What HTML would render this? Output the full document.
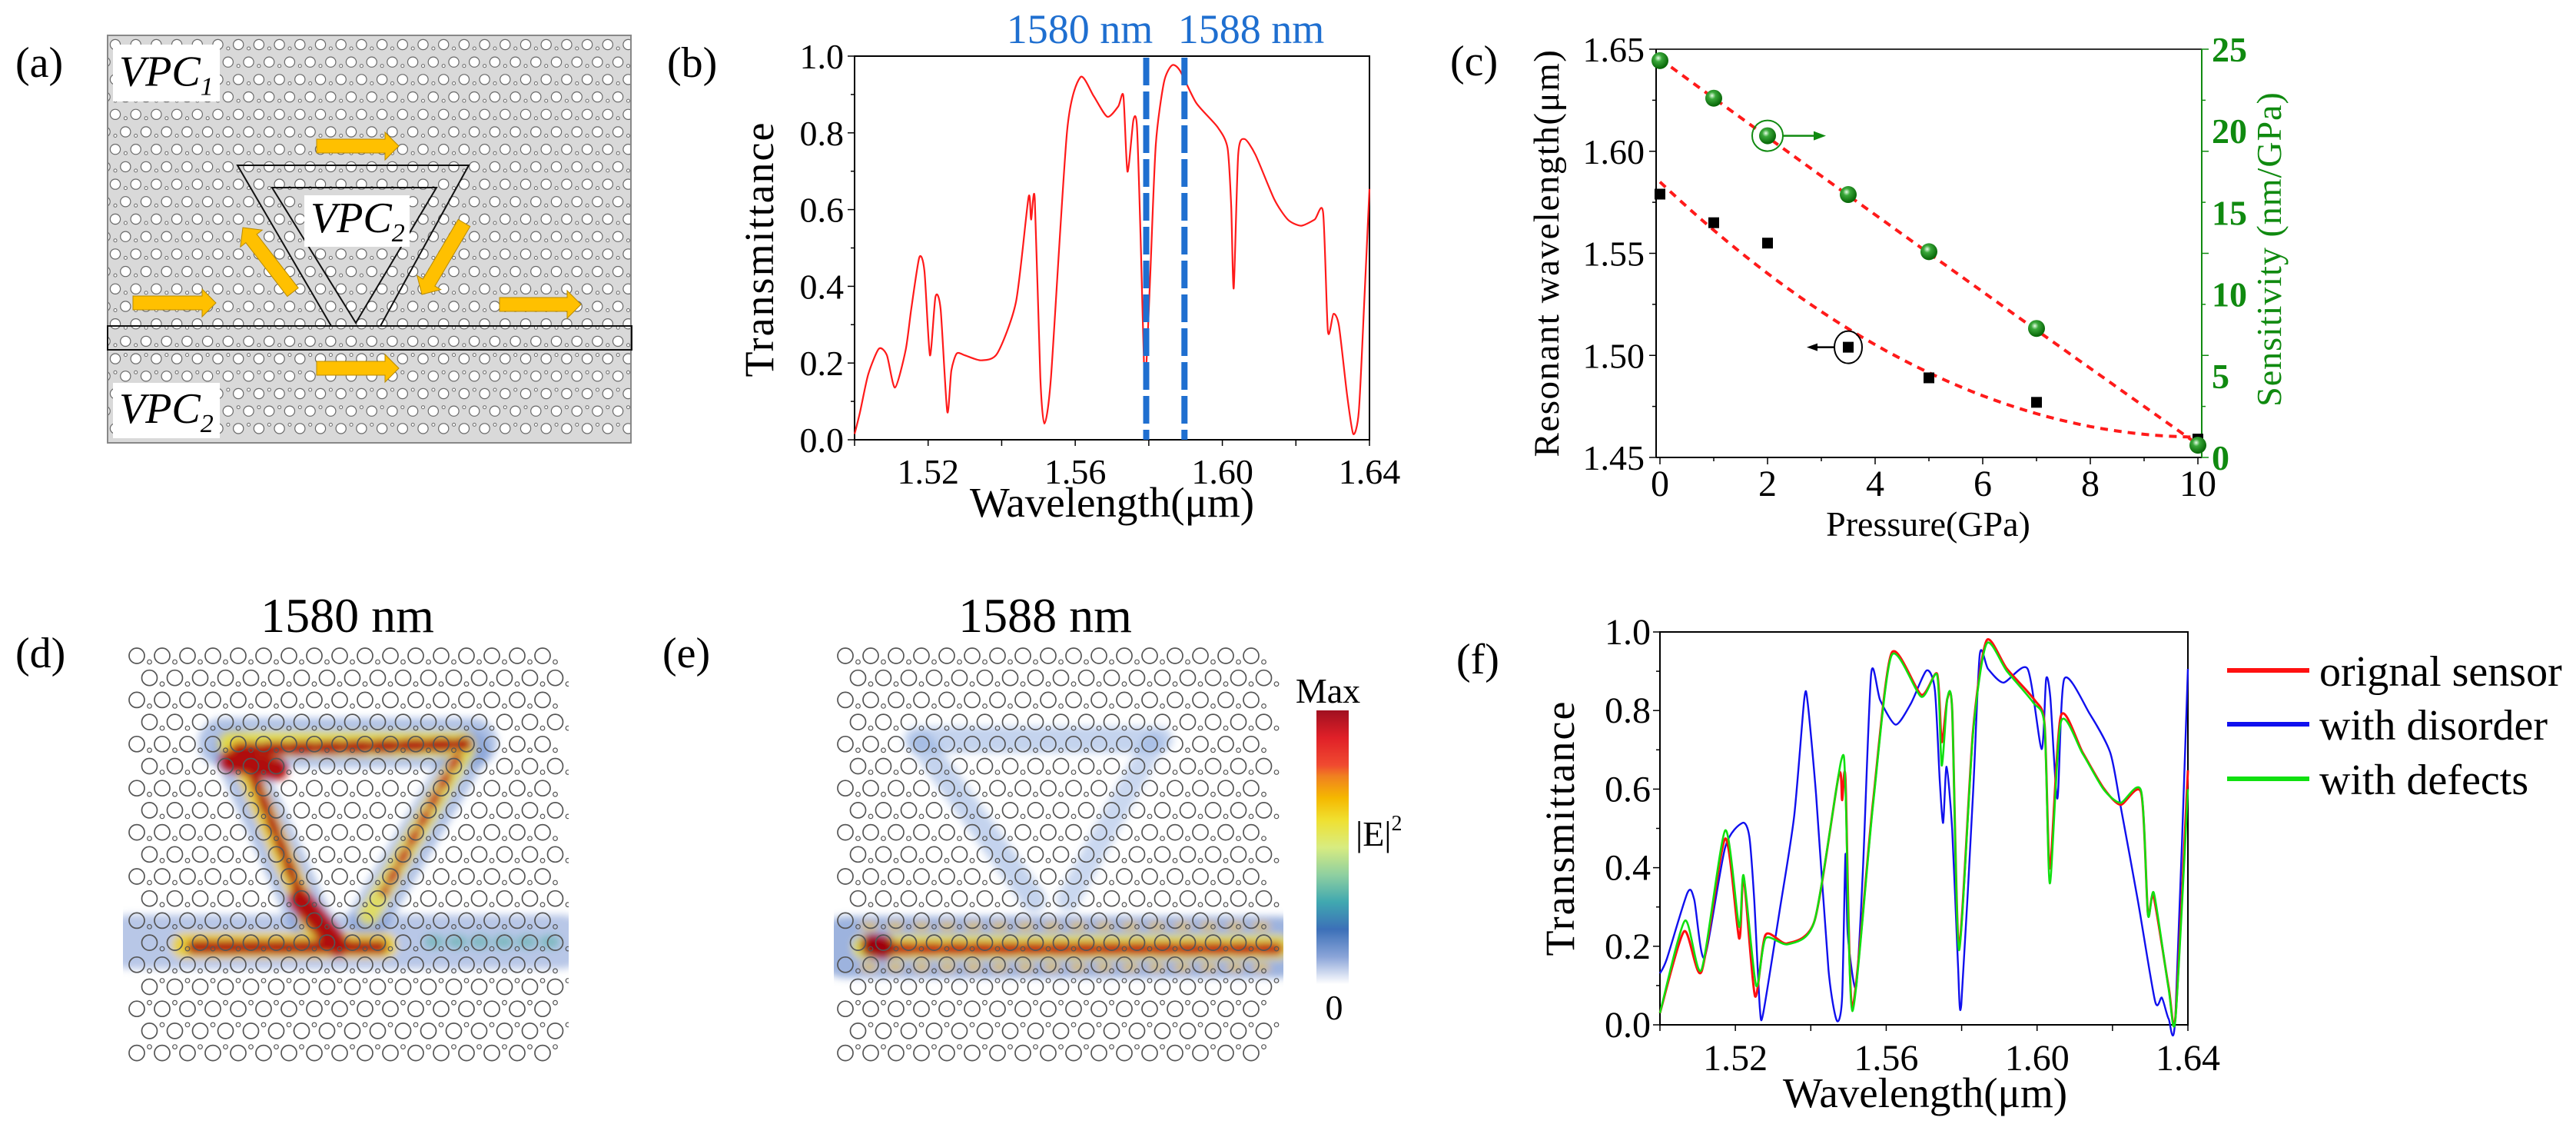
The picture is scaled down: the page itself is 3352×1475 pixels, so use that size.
<!DOCTYPE html>
<html><head><meta charset="utf-8"><title>VPC pressure sensor figure</title>
<style>
html,body{margin:0;padding:0;background:#fff;}
svg{display:block;}
svg text, svg tspan{font-family:"Liberation Serif","Times New Roman","DejaVu Serif",serif;}
</style></head>
<body>
<svg id="fig" width="3352" height="1475" viewBox="0 0 3352 1475" xmlns="http://www.w3.org/2000/svg" font-family="Liberation Serif, serif">
<defs>
<clipPath id="clipA"><rect x="141" y="47" width="679" height="528"/></clipPath>
<clipPath id="clipD"><rect x="160" y="840" width="580" height="545"/></clipPath>
<clipPath id="clipE"><rect x="1085" y="838" width="585" height="545"/></clipPath>
<filter id="blur6" x="-20%" y="-20%" width="140%" height="140%"><feGaussianBlur stdDeviation="5"/></filter>
<linearGradient id="cbar" x1="0" y1="0" x2="0" y2="1">
<stop offset="0" stop-color="#a01020"/><stop offset="0.1" stop-color="#e02028"/><stop offset="0.2" stop-color="#f04a30"/>
<stop offset="0.24" stop-color="#f08020"/><stop offset="0.32" stop-color="#f5b800"/><stop offset="0.4" stop-color="#f0e030"/>
<stop offset="0.5" stop-color="#d8ec80"/><stop offset="0.6" stop-color="#90d0a0"/><stop offset="0.7" stop-color="#40a8b0"/>
<stop offset="0.8" stop-color="#3c70b8"/><stop offset="0.9" stop-color="#8aa4d8"/><stop offset="1" stop-color="#ffffff"/>
</linearGradient>
<radialGradient id="gball" cx="0.4" cy="0.35" r="0.6"><stop offset="0" stop-color="#e8ffe8"/><stop offset="0.35" stop-color="#3aa83a"/><stop offset="1" stop-color="#0a6a0a"/></radialGradient>
</defs>

<text x="20" y="100" font-size="56">(a)</text>
<text x="868" y="100" font-size="56">(b)</text>
<text x="1887" y="98" font-size="56">(c)</text>
<text x="20" y="868" font-size="56">(d)</text>
<text x="862" y="868" font-size="56">(e)</text>
<text x="1895" y="876" font-size="56">(f)</text>

<g id="panelA">
<rect x="140" y="46" width="681" height="530" fill="#d9d9d9" stroke="#888" stroke-width="2"/>
<g id="latA" clip-path="url(#clipA)"></g>
<g id="arrowsA"></g>
</g>

<g id="panelB">
<text x="1405" y="56" font-size="54" fill="#1f6fd0" text-anchor="middle">1580 nm</text>
<text x="1628" y="56" font-size="54" fill="#1f6fd0" text-anchor="middle">1588 nm</text>
<text transform="translate(1006,324) rotate(-90)" font-size="54" text-anchor="middle" letter-spacing="2">Transmittance</text>
<text x="1447" y="672" font-size="55" text-anchor="middle">Wavelength(μm)</text>
</g>

<g id="panelC">
<text transform="translate(2028,329) rotate(-90)" font-size="47" text-anchor="middle" letter-spacing="1.5">Resonant wavelength(μm)</text>
<text transform="translate(2968,324) rotate(-90)" font-size="46" fill="#108a10" text-anchor="middle" letter-spacing="1">Sensitivity (nm/GPa)</text>
<text x="2509" y="697" font-size="46" text-anchor="middle">Pressure(GPa)</text>
</g>

<g id="panelD">
<text x="452" y="822" font-size="64" text-anchor="middle">1580 nm</text>
<g id="heatD" clip-path="url(#clipD)" filter="url(#blur6)"></g>
<g id="latD" clip-path="url(#clipD)"></g>
</g>

<g id="panelE">
<text x="1360" y="822" font-size="64" text-anchor="middle">1588 nm</text>
<g id="heatE" clip-path="url(#clipE)" filter="url(#blur6)"></g>
<g id="latE" clip-path="url(#clipE)"></g>
<rect x="1713" y="924" width="42" height="356" fill="url(#cbar)"/>
<text x="1728" y="914" font-size="46" text-anchor="middle">Max</text>
<text x="1764" y="1100" font-size="46">|E|<tspan font-size="28" dy="-20">2</tspan></text>
<text x="1736" y="1326" font-size="46" text-anchor="middle">0</text>
</g>

<g id="panelF">
<text transform="translate(2048,1077) rotate(-90)" font-size="54" text-anchor="middle" letter-spacing="2">Transmittance</text>
<text x="2505" y="1440" font-size="55" text-anchor="middle">Wavelength(μm)</text>
<g>
<g><line x1="2898" y1="872" x2="3005" y2="872" stroke="#ff1010" stroke-width="6"/><text x="3018" y="892" font-size="56">orignal sensor</text></g>
<g><line x1="2898" y1="942" x2="3005" y2="942" stroke="#1010ee" stroke-width="6"/><text x="3018" y="962" font-size="56">with disorder</text></g>
<g><line x1="2898" y1="1013" x2="3005" y2="1013" stroke="#10e010" stroke-width="6"/><text x="3018" y="1033" font-size="56">with defects</text></g>
</g>
</g>
</svg>

<script>
// ---------- Panel (b) data ----------
const bWave=[1.500,1.5015,1.5037,1.5066,1.5088,1.511,1.5139,1.5154,1.5176,1.519,1.5205,1.522,1.5234,1.5252,1.5263,1.5278,1.530,1.5344,1.5388,1.5439,1.5473,1.548,1.549,1.5505,1.5516,1.5534,1.5578,1.5614,1.565,1.5687,1.5717,1.5731,1.5742,1.5758,1.5768,1.5778,1.5787,1.5793,1.5804,1.5819,1.5841,1.5863,1.5885,1.5929,1.5987,1.6014,1.6024,1.6031,1.6043,1.606,1.609,1.6141,1.6178,1.6214,1.6251,1.6274,1.6287,1.6302,1.6317,1.6339,1.6356,1.6371,1.6385,1.640];
const bTrans=[0.015,0.073,0.17,0.237,0.22,0.136,0.234,0.34,0.475,0.44,0.22,0.373,0.34,0.073,0.18,0.225,0.22,0.207,0.225,0.36,0.632,0.574,0.628,0.163,0.042,0.163,0.806,0.945,0.896,0.842,0.869,0.896,0.699,0.833,0.815,0.52,0.198,0.19,0.431,0.77,0.931,0.976,0.962,0.878,0.815,0.761,0.609,0.395,0.743,0.784,0.743,0.627,0.574,0.558,0.574,0.592,0.283,0.328,0.297,0.118,0.015,0.073,0.341,0.654];
const bMarkers=[1.5793,1.5897];
const bXTicks=[1.52,1.56,1.60,1.64];
const bYTicks=[0.0,0.2,0.4,0.6,0.8,1.0];

// ---------- Panel (c) data ----------
const cPressure=[0,1,2,3.5,5,7,10];
const cResonant=[1.579,1.565,1.555,1.504,1.489,1.477,1.459];
const cSensitivity=[24.3,22.0,19.7,16.1,12.6,7.9,0.75];
const cFitResonant=[1.585,-0.0249,0.00124];
const cFitSensitivity=[24.4,-2.4,0.004];
const cLeftTicks=[1.45,1.50,1.55,1.60,1.65];
const cRightTicks=[0,5,10,15,20,25];
const cXTicks=[0,2,4,6,8,10];

// ---------- Panel (f) data ----------
const fRedWave=[1.500,1.5064,1.511,1.5173,1.521,1.5222,1.5252,1.528,1.5337,1.541,1.5474,1.5483,1.5492,1.551,1.5565,1.5614,1.5693,1.5735,1.5747,1.5762,1.5775,1.5793,1.583,1.5866,1.592,1.5994,1.602,1.6034,1.6063,1.6121,1.6176,1.6221,1.6276,1.6294,1.6309,1.6349,1.6367,1.640];
const fRedT=[0.03,0.238,0.135,0.474,0.22,0.376,0.073,0.229,0.207,0.265,0.635,0.572,0.626,0.046,0.568,0.946,0.84,0.893,0.72,0.83,0.80,0.2,0.746,0.978,0.906,0.826,0.764,0.398,0.786,0.693,0.603,0.56,0.59,0.283,0.327,0.095,0.02,0.648];
const fGreenWave=[1.500,1.5066,1.511,1.5173,1.521,1.5222,1.5255,1.528,1.534,1.541,1.548,1.5492,1.551,1.5565,1.5614,1.5693,1.5735,1.5747,1.5762,1.5775,1.5793,1.583,1.5866,1.592,1.599,1.602,1.6034,1.6063,1.6121,1.6176,1.6221,1.6276,1.6294,1.631,1.6349,1.6367,1.640];
const fGreenT=[0.03,0.265,0.14,0.495,0.25,0.38,0.1,0.22,0.205,0.265,0.67,0.6,0.035,0.56,0.94,0.835,0.89,0.66,0.83,0.80,0.19,0.74,0.97,0.90,0.82,0.76,0.36,0.77,0.69,0.60,0.565,0.595,0.28,0.335,0.09,0.015,0.6];
const fBlueWave=[1.500,1.5018,1.5073,1.5091,1.5118,1.5173,1.5219,1.5237,1.525,1.5265,1.5274,1.5319,1.5356,1.5383,1.5392,1.5414,1.5447,1.5469,1.5483,1.5492,1.5498,1.552,1.5538,1.556,1.5584,1.5625,1.5665,1.5707,1.5729,1.5742,1.5751,1.576,1.5775,1.579,1.5799,1.583,1.5848,1.587,1.5911,1.5975,1.6012,1.6024,1.6035,1.6054,1.6072,1.614,1.6194,1.6221,1.6267,1.6313,1.6331,1.6349,1.6367,1.640];
const fBlueT=[0.131,0.167,0.336,0.318,0.171,0.452,0.514,0.479,0.318,0.042,0.031,0.30,0.532,0.831,0.817,0.585,0.14,0.011,0.069,0.434,0.23,0.095,0.39,0.893,0.826,0.764,0.817,0.902,0.853,0.621,0.514,0.657,0.496,0.158,0.051,0.585,0.942,0.906,0.871,0.906,0.702,0.88,0.835,0.576,0.88,0.791,0.693,0.559,0.318,0.06,0.069,0.015,0.024,0.906];
const fXTicks=[1.52,1.56,1.60,1.64];
const fYTicks=[0.0,0.2,0.4,0.6,0.8,1.0];

const NS='http://www.w3.org/2000/svg';
const FONT='Liberation Serif, Times New Roman, serif';
function mk(parent,tag,attrs){const e=document.createElementNS(NS,tag);for(const k in attrs)e.setAttribute(k,attrs[k]);parent.appendChild(e);return e;}
function txt(parent,x,y,s,size,anchor,fill,weight){const t=mk(parent,'text',{x:x,y:y,'font-size':size,'text-anchor':anchor,fill:fill||'#000','font-weight':weight||'normal','font-family':FONT});t.textContent=s;return t;}
// smooth path (Catmull-Rom, low tension) through data points
function pathFrom(xs,ys,fx,fy){
 const P=xs.map((v,i)=>[fx(v),fy(ys[i])]);
 let d='M'+P[0][0].toFixed(1)+','+P[0][1].toFixed(1);
 for(let i=0;i<P.length-1;i++){
  const p0=P[Math.max(0,i-1)],p1=P[i],p2=P[i+1],p3=P[Math.min(P.length-1,i+2)];
  const k=0.12;
  const c1=[p1[0]+(p2[0]-p0[0])*k,p1[1]+(p2[1]-p0[1])*k];
  const c2=[p2[0]-(p3[0]-p1[0])*k,p2[1]-(p3[1]-p1[1])*k];
  d+='C'+c1[0].toFixed(1)+','+c1[1].toFixed(1)+' '+c2[0].toFixed(1)+','+c2[1].toFixed(1)+' '+p2[0].toFixed(1)+','+p2[1].toFixed(1);
 }
 return d;
}

// ===== Panel (a) =====
(function(){
 const g=document.getElementById('latA');
 for(let r=0;r<23;r++){
  const y=58+r*22.7, off=(r%2)?13.3:0;
  for(let c=-1;c<27;c++){
   const x=150+off+c*26.7;
   const b=mk(g,'circle',{cx:x,cy:y,r:6.6,fill:'#fff',stroke:'#6a6a6a','stroke-width':1.2});
   
   
   const s=mk(g,'circle',{cx:x-13.3,cy:y+(r>=18?-5:5),r:2,fill:'#fff',stroke:'#6a6a6a','stroke-width':1});
   
   
  }
 }
 const tri=document.getElementById('arrowsA');
 const outer=mk(tri,'path',{d:'M431,424 L309,215 L610,215 L495,424',fill:'none',stroke:'#111','stroke-width':2});
 
 
 const inner=mk(tri,'path',{d:'M463,420 L354,244 L568,244 Z',fill:'none',stroke:'#111','stroke-width':2});
 
 
 const wg=mk(tri,'rect',{x:140,y:424,width:682,height:31,fill:'none',stroke:'#111','stroke-width':2});
 
 
 function box(x,y,w,h,label,sub,name){
  const bg=mk(tri,'g',{});
  
  
  mk(bg,'rect',{x:x,y:y,width:w,height:h,fill:'#fff'});
  const t=mk(bg,'text',{x:x+8,y:y+h*0.72,'font-size':56,'font-style':'italic','font-family':FONT});
  t.textContent=label;
  const s=mk(t,'tspan',{'font-size':34,dy:12});s.textContent=sub;
 }
 box(147,58,139,74,'VPC','1','label-vpc1');
 box(396,254,137,67,'VPC','2','label-vpc2-inner');
 box(147,498,139,72,'VPC','2','label-vpc2-bottom');
 function arrow(x1,y1,x2,y2,name){
  const dx=x2-x1,dy=y2-y1,L=Math.hypot(dx,dy),ux=dx/L,uy=dy/L,nx=-uy,ny=ux;
  const bw=9,hw=18,hl=18;
  const P=[[x1+nx*bw,y1+ny*bw],[x2-ux*hl+nx*bw,y2-uy*hl+ny*bw],[x2-ux*hl+nx*hw,y2-uy*hl+ny*hw],[x2,y2],[x2-ux*hl-nx*hw,y2-uy*hl-ny*hw],[x2-ux*hl-nx*bw,y2-uy*hl-ny*bw],[x1-nx*bw,y1-ny*bw]];
  const a=mk(tri,'polygon',{points:P.map(p=>p.join(',')).join(' '),fill:'#ffc000',stroke:'#b88a00','stroke-width':1});
  
  
 }
 arrow(412,190,519,190,'arrow-top');
 arrow(173,394,281,394,'arrow-input');
 arrow(650,396,756,396,'arrow-output');
 arrow(412,479,519,479,'arrow-bottom');
 arrow(381,380,316,296,'arrow-left-diagonal');
 arrow(604,290,549,383,'arrow-right-diagonal');
})();

// ===== Panel (b) =====
(function(){
 const g=document.getElementById('panelB');
 const X0=1112,X1=1782,Y0=572,Y1=73;
 const bx=w=>X0+(w-1.5)/0.14*(X1-X0);
 const by=t=>Y0-t*(Y0-Y1);
 const fr=mk(g,'rect',{x:X0,y:Y1,width:X1-X0,height:Y0-Y1,fill:'none',stroke:'#000','stroke-width':2});
 
 
 for(let w=1.50;w<=1.6401;w+=0.02){const x=bx(w);mk(g,'line',{x1:x,y1:Y0,x2:x,y2:Y0+8,stroke:'#000','stroke-width':1.5});}
 for(let t=0;t<=1.001;t+=0.1){const y=by(t);mk(g,'line',{x1:X0,y1:y,x2:X0-(Math.round(t*10)%2?5:9),y2:y,stroke:'#000','stroke-width':1.5});}
 bXTicks.forEach(v=>{const t=txt(g,bx(v),629,v.toFixed(2),46,'middle');});
 bYTicks.forEach(v=>{const t=txt(g,1098,by(v)+16,v.toFixed(1),46,'end');});
 const p=mk(g,'path',{d:pathFrom(bWave,bTrans,bx,by),fill:'none',stroke:'#ff1a1a','stroke-width':2.2,'stroke-linejoin':'round'});
 
 
 bMarkers.forEach(w=>{const l=mk(g,'line',{x1:bx(w),y1:Y1+2,x2:bx(w),y2:Y0,stroke:'#1f6fd0','stroke-width':8,'stroke-dasharray':'36 8'});});
})();

// ===== Panel (c) =====
(function(){
 const g=document.getElementById('panelC');
 const X0=2155,X1=2865,Y0=595,Y1=64;
 const cx=p=>2160+p*70;
 const cyL=v=>Y1+(1.65-v)/0.2*(Y0-Y1);
 const cyR=s=>Y0-s/25*(Y0-Y1);
 mk(g,'line',{x1:X0,y1:Y1,x2:X1,y2:Y1,stroke:'#333','stroke-width':2});
 const la=mk(g,'line',{x1:X0,y1:Y1,x2:X0,y2:Y0,stroke:'#000','stroke-width':2});
 
 const ba=mk(g,'line',{x1:X0,y1:Y0,x2:X1,y2:Y0,stroke:'#000','stroke-width':2});
 
 const ra=mk(g,'line',{x1:X1,y1:Y1,x2:X1,y2:Y0,stroke:'#108a10','stroke-width':2});
 
 for(let i=0;i<=8;i++){const y=Y1+i*(Y0-Y1)/8;mk(g,'line',{x1:X0,y1:y,x2:X0-(i%2?5:9),y2:y,stroke:'#000','stroke-width':1.5});mk(g,'line',{x1:X1,y1:y,x2:X1+(i%2?5:9),y2:y,stroke:'#108a10','stroke-width':1.5});}
 for(let p=0;p<=10;p++){mk(g,'line',{x1:cx(p),y1:Y0,x2:cx(p),y2:Y0+(p%2?5:9),stroke:'#000','stroke-width':1.5});}
 cLeftTicks.forEach(v=>{const t=txt(g,2140,cyL(v)+16,v.toFixed(2),46,'end');});
 cRightTicks.forEach(v=>{const t=txt(g,2878,cyR(v)+16,String(v),46,'start','#108a10','bold');});
 cXTicks.forEach(v=>{const t=txt(g,cx(v),645,String(v),48,'middle');});
 let d1='',d2='';
 for(let i=0;i<=50;i++){const p=i/5;
  const v=cFitResonant[0]+cFitResonant[1]*p+cFitResonant[2]*p*p;
  const s=cFitSensitivity[0]+cFitSensitivity[1]*p+cFitSensitivity[2]*p*p;
  d1+=(i?'L':'M')+cx(p).toFixed(1)+','+cyL(v).toFixed(1);
  d2+=(i?'L':'M')+cx(p).toFixed(1)+','+cyR(s).toFixed(1);}
 const f1=mk(g,'path',{d:d1,fill:'none',stroke:'#ff1a1a','stroke-width':4,'stroke-dasharray':'10 8'});
 
 const f2=mk(g,'path',{d:d2,fill:'none',stroke:'#ff1a1a','stroke-width':4,'stroke-dasharray':'10 8'});
 
 cPressure.forEach((p,i)=>{
  const sq=mk(g,'rect',{x:cx(p)-7,y:cyL(cResonant[i])-7,width:14,height:14,fill:'#000'});
  
  
  const c=mk(g,'circle',{cx:cx(p),cy:cyR(cSensitivity[i]),r:11,fill:'url(#gball)'});
  
  
 });
 const gi=2, bi=3;
 const ac=mk(g,'circle',{cx:cx(cPressure[gi]),cy:cyR(cSensitivity[gi]),r:20,fill:'none',stroke:'#108a10','stroke-width':2});
 
 mk(g,'line',{x1:cx(cPressure[gi])+20,y1:cyR(cSensitivity[gi]),x2:cx(cPressure[gi])+62,y2:cyR(cSensitivity[gi]),stroke:'#108a10','stroke-width':2.5});
 mk(g,'polygon',{points:(cx(cPressure[gi])+76)+','+cyR(cSensitivity[gi])+' '+(cx(cPressure[gi])+60)+','+(cyR(cSensitivity[gi])-6)+' '+(cx(cPressure[gi])+60)+','+(cyR(cSensitivity[gi])+6),fill:'#108a10'});
 const bc=mk(g,'ellipse',{cx:cx(cPressure[bi]),cy:cyL(cResonant[bi]),rx:18,ry:21,fill:'none',stroke:'#000','stroke-width':2});
 
 mk(g,'line',{x1:cx(cPressure[bi])-18,y1:cyL(cResonant[bi]),x2:cx(cPressure[bi])-42,y2:cyL(cResonant[bi]),stroke:'#000','stroke-width':2.5});
 mk(g,'polygon',{points:(cx(cPressure[bi])-54)+','+cyL(cResonant[bi])+' '+(cx(cPressure[bi])-40)+','+(cyL(cResonant[bi])-5)+' '+(cx(cPressure[bi])-40)+','+(cyL(cResonant[bi])+5),fill:'#000'});
})();

// ===== Panels (d),(e) =====
function lattice(id,x0,y0,n){
 const g=document.getElementById(id);
 for(let r=0;r<19;r++){
  const y=y0+r*28.7, off=(r%2)?16.5:0;
  for(let c=0;c<n;c++){
   const x=x0+off+c*33;
   const b=mk(g,'circle',{cx:x,cy:y,r:10,fill:'none',stroke:'#555','stroke-width':1.7});
   
   
   const s=mk(g,'circle',{cx:x+16.5,cy:y+(r>=15?-8:8),r:2.8,fill:'none',stroke:'#555','stroke-width':1.2});
   
   
  }
 }
}
function band(id,pts,col,w,op,dash,name){
 const g=document.getElementById(id);
 const p=mk(g,'polyline',{points:pts,fill:'none',stroke:col,'stroke-width':w,opacity:op,'stroke-linecap':'round','stroke-linejoin':'round','stroke-dasharray':dash||'none'});
 
 
}
band('heatD','168,1225 730,1225','#6f8fd0',70,0.5,'','field-waveguide-blue');
band('heatD','290,966 615,966','#6f8fd0',64,0.55,'','field-top-blue');
band('heatD','305,975 405,1200','#6f8fd0',56,0.55,'','field-left-blue');
band('heatD','610,975 480,1195','#6f8fd0',52,0.55,'','field-right-blue');
band('heatD','300,968 605,968','#e8e040',32,0.9,'16 10','field-top-yellow');
band('heatD','310,975 405,1200','#f0d030',28,0.9,'16 10','field-left-yellow');
band('heatD','605,975 480,1190','#e8e050',26,0.85,'14 10','field-right-yellow');
band('heatD','240,1230 500,1230','#f0d030',32,0.9,'','field-waveguide-yellow');
band('heatD','310,975 605,968','#b01010',18,1,'22 14','field-top-red');
band('heatD','300,990 360,1000','#b01010',30,1,'','field-corner-red');
band('heatD','330,1010 405,1200','#b01010',14,1,'18 12','field-left-red');
band('heatD','595,985 500,1160','#c01818',12,0.95,'14 14','field-right-red');
band('heatD','252,1232 495,1232','#b01010',18,1,'24 10','field-waveguide-red');
band('heatD','390,1170 440,1230','#b01010',30,1,'','field-junction-red');
band('heatD','560,1225 730,1225','#58b0a8',16,0.6,'10 20','field-waveguide-teal');
lattice('latD',178,853,17);
band('heatE','1100,1232 1664,1232','#5a80c8',80,0.6,'','field-waveguide-blue');
band('heatE','1193,962 1509,962','#8aa8dd',34,0.5,'','field-top-blue');
band('heatE','1200,968 1345,1170','#8aa8dd',32,0.5,'','field-left-blue');
band('heatE','1500,968 1390,1170','#8aa8dd',30,0.45,'','field-right-blue');
band('heatE','1125,1232 1664,1232','#e8e040',30,0.9,'','field-waveguide-yellow');
band('heatE','1125,1205 1664,1205','#f0c030',10,0.7,'12 22','field-upper-row');
band('heatE','1125,1258 1664,1258','#f0c030',10,0.7,'12 22','field-lower-row');
band('heatE','1130,1234 1664,1234','#c01010',16,1,'22 12','field-waveguide-red');
band('heatE','1135,1230 1150,1232','#a00010',30,1,'','field-source-red');
lattice('latE',1100,853,17);

// ===== Panel (f) =====
(function(){
 const g=document.getElementById('panelF');
 const X0=2160,X1=2847,Y0=1333,Y1=822;
 const fx=w=>X0+(w-1.5)/0.14*(X1-X0);
 const fy=t=>Y0-t*(Y0-Y1);
 const fr=mk(g,'rect',{x:X0,y:Y1,width:X1-X0,height:Y0-Y1,fill:'none',stroke:'#000','stroke-width':2});
 
 
 for(let w=1.50;w<=1.6401;w+=0.02){const x=fx(w);mk(g,'line',{x1:x,y1:Y0,x2:x,y2:Y0+8,stroke:'#000','stroke-width':1.5});}
 for(let t=0;t<=1.001;t+=0.1){const y=fy(t);mk(g,'line',{x1:X0,y1:y,x2:X0-(Math.round(t*10)%2?5:9),y2:y,stroke:'#000','stroke-width':1.5});}
 fXTicks.forEach(v=>{const t=txt(g,fx(v),1392,v.toFixed(2),48,'middle');});
 fYTicks.forEach(v=>{const t=txt(g,2148,fy(v)+16,v.toFixed(1),48,'end');});
 const pb=mk(g,'path',{d:pathFrom(fBlueWave,fBlueT,fx,fy),fill:'none',stroke:'#1010ee','stroke-width':2.4,'stroke-linejoin':'round'});
 
 const pr=mk(g,'path',{d:pathFrom(fRedWave,fRedT,fx,fy),fill:'none',stroke:'#ff1010','stroke-width':3,'stroke-linejoin':'round'});
 
 const pg=mk(g,'path',{d:pathFrom(fGreenWave,fGreenT,fx,fy),fill:'none',stroke:'#10e010','stroke-width':2.6,'stroke-linejoin':'round'});
 
})();
</script>
</body></html>
